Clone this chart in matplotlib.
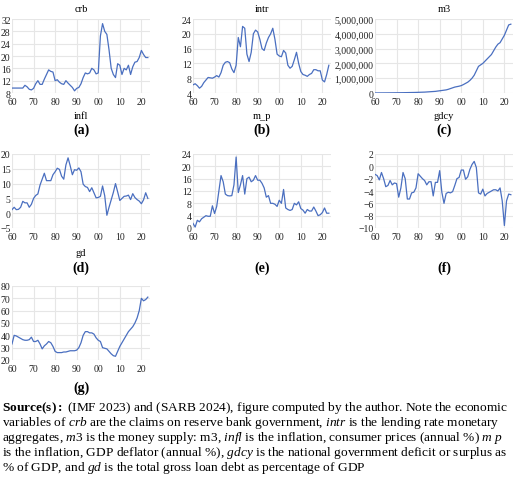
import matplotlib
matplotlib.use("Agg")
import matplotlib.pyplot as plt
from matplotlib.ticker import FuncFormatter

plt.rcParams['font.family'] = ['Liberation Serif', 'DejaVu Serif']
plt.rcParams['mathtext.fontset'] = 'custom'
plt.rcParams['mathtext.rm'] = 'Liberation Serif'
plt.rcParams['mathtext.it'] = 'Liberation Serif:italic'
plt.rcParams['mathtext.bf'] = 'Liberation Serif:bold'

years = list(range(1960, 2024))

crb = [9.6, 9.6, 9.6, 9.6, 9.6, 9.6, 10.5, 10, 9.2, 9, 9.5, 11, 12, 10.8, 10.8, 12.5,
       14, 15.5, 15, 14.8, 12, 12.3, 11.5, 11, 10.8, 12, 11.2, 10.5, 9.8, 8.7, 9.5, 9.8,
       11, 13, 14.5, 14.2, 14.5, 16, 15.5, 14.2, 14.5, 26.5, 30.5, 28, 27, 22, 16, 14,
       13, 17.5, 17, 14, 16, 15.5, 17, 14, 16.5, 18, 18.2, 19.5, 21.8, 20.5, 19.5, 19.5]
intr = [6.2, 6.5, 6, 5.3, 5.8, 6.8, 7.5, 8.2, 8.1, 8, 8.3, 8.7, 8.3, 9.5, 11.5, 12.3,
        12.5, 12.2, 10.5, 9.5, 11.5, 19, 16.5, 22, 21.5, 14.5, 12.5, 15, 20, 21, 20.5, 18.5,
        16, 15.5, 17.5, 19, 20, 21.5, 18.5, 14.5, 14, 13.8, 15.5, 14.8, 11.5, 10.7, 11.2, 13,
        15, 12, 9.8, 9, 8.8, 8.5, 9, 9.3, 10.3, 10.3, 10, 10, 7.5, 7, 9, 11.5]
m3 = [5e3, 5e3, 6e3, 7e3, 8e3, 9e3, 1e4, 1.1e4, 1.2e4, 1.4e4, 1.5e4, 1.7e4, 1.9e4, 2.1e4,
      2.4e4, 2.7e4, 3e4, 3.3e4, 3.6e4, 4e4, 4.5e4, 5e4, 5.5e4, 6e4, 7e4, 8e4, 9e4, 1e5,
      1.1e5, 1.3e5, 1.5e5, 1.7e5, 1.9e5, 2.1e5, 2.5e5, 3e5, 3.5e5, 4e5, 4.3e5, 4.6e5, 5e5,
      5.7e5, 6.5e5, 7.3e5, 8.5e5, 1e6, 1.2e6, 1.5e6, 1.8e6, 1.9e6, 2e6, 2.15e6, 2.3e6,
      2.45e6, 2.6e6, 2.85e6, 3.1e6, 3.3e6, 3.4e6, 3.65e6, 3.9e6, 4.25e6, 4.6e6, 4.65e6]
infl = [1.2, 2, 1.2, 1.3, 2, 4, 3.5, 3.5, 2, 3, 5, 6, 6.5, 9.5, 11.5, 13.5, 11, 11, 11,
        13, 14, 15.2, 14.8, 12.5, 11.5, 16.3, 18.7, 16, 13, 14.7, 14.5, 15.3, 14, 9.8, 9,
        8.7, 7.3, 8.6, 6.9, 5.2, 5.3, 5.7, 9.2, 5.9, -0.7, 2, 4.5, 7, 10, 7.2, 4.3, 5, 5.7,
        5.8, 6.1, 4.6, 6.6, 5.3, 4.6, 4.1, 3.2, 4.5, 6.9, 5]
m_p = [1.5, 0.3, 2.5, 2, 3, 3.5, 4, 3.8, 3.8, 7.2, 4.7, 7, 12, 17, 15, 11, 10.5, 10.4,
       10.5, 14, 23, 11.5, 14, 17, 11, 16, 16.5, 15, 15.5, 17, 15.5, 15.5, 14.5, 13, 10,
       10.5, 8, 8, 7.7, 7, 9, 8, 12.5, 6.5, 6, 5.7, 6, 8, 7.5, 8.5, 6.3, 5.8, 4.8, 6, 5.5,
       5.5, 6.8, 5.5, 4, 4.3, 5, 6.5, 4.8, 4.8]
gdcy = [-1.3, -1.5, -2.2, -1, -2, -3.3, -3.1, -2.3, -3, -2.7, -2.8, -5, -3.5, -1, -2,
        -5.3, -5.3, -4.3, -4.2, -3.5, -1.2, -1.6, -2, -2.3, -3, -2.5, -2.5, -4.8, -2.6,
        -2.6, -0.7, -4.2, -6, -4.4, -4.2, -4.3, -4.1, -3.1, -2, -1.8, -0.6, -0.6, -2.1,
        -1.7, -0.5, 0.3, 0.8, -0.2, -4.3, -4.5, -3.7, -4.8, -4.4, -4.2, -4, -3.8, -3.8,
        -4, -3.5, -5.6, -9.6, -5.6, -4.5, -4.6]
gd = [33, 40, 39.5, 38.5, 37.5, 36.5, 36, 36, 36.5, 38.5, 35, 35, 36, 33, 29, 31.5, 33,
      35, 34, 31, 27, 26, 26, 26, 26.5, 26.5, 27, 27.5, 27.5, 27.5, 28, 30, 34, 40, 43,
      43, 42, 42, 41, 38, 36, 35, 30, 29.5, 29, 27, 25, 23.5, 23, 27, 31, 34, 37, 40, 43,
      45, 47, 50, 54, 60, 70, 68, 69, 71]

xticks = [1960, 1970, 1980, 1990, 2000, 2010, 2020]
xticklabels = ['60', '70', '80', '90', '00', '10', '20']

panels = [
    ('crb', crb, (8, 32, 4), '(a)'),
    ('intr', intr, (4, 24, 4), '(b)'),
    ('m3', m3, (0, 5e6, 1e6), '(c)'),
    ('infl', infl, (-5, 20, 5), '(d)'),
    ('m_p', m_p, (0, 24, 4), '(e)'),
    ('gdcy', gdcy, (-10, 2, 2), '(f)'),
    ('gd', gd, (20, 80, 10), '(g)'),
]

W, H = 520, 481
fig = plt.figure(figsize=(W / 100, H / 100), dpi=100)

col_left = [12, 193, 375]
col_w = 138
row_top = [20, 155, 287]
row_h = 74
title_y = [10, 117, 254]
label_y = [130, 268, 388]

for i, (name, vals, (lo, hi, step), lab) in enumerate(panels):
    r, c = divmod(i, 3)
    left = col_left[c]
    top = row_top[r]
    ax = fig.add_axes([left / W, 1 - (top + row_h) / H, col_w / W, row_h / H])
    ax.plot(years, vals, color='#4a6fc0', lw=0.9)
    ax.set_xlim(1960, 2024)
    ax.set_ylim(lo, hi)
    n = int(round((hi - lo) / step))
    ax.set_yticks([lo + k * step for k in range(n + 1)])
    ax.set_xticks(xticks)
    ax.set_xticklabels(xticklabels)
    if name == 'm3':
        ax.yaxis.set_major_formatter(FuncFormatter(lambda v, p: f'{int(v):,}'))
    elif name in ('infl', 'gdcy'):
        ax.yaxis.set_major_formatter(FuncFormatter(lambda v, p: f'{int(v)}'.replace('-', '\u2212')))
    ax.grid(True, color='#e6e6e6', lw=0.8)
    ax.set_axisbelow(True)
    for s in ax.spines.values():
        s.set_visible(False)
    ax.tick_params(length=0, labelsize=7, pad=1, colors='#222222')
    ax.tick_params(axis='x', pad=3)
    cx = (left + col_w / 2) / W
    fig.text(cx, 1 - title_y[r] / H, name, ha='center', va='center', fontsize=7.5)
    fig.text(cx, 1 - label_y[r] / H, lab, ha='center', va='center',
             fontsize=10, fontweight='bold')

lines = [
    r"$\mathbf{Source(s){:}}$ (IMF 2023) and (SARB 2024), figure computed by the author. Note the economic",
    r"variables of $\mathit{crb}$ are the claims on reserve bank government, $\mathit{intr}$ is the lending rate monetary",
    r"aggregates, $\mathit{m3}$ is the money supply: m3, $\mathit{infl}$ is the inflation, consumer prices (annual %) $\mathit{m\ p}$",
    r"is the inflation, GDP deflator (annual %), $\mathit{gdcy}$ is the national government deficit or surplus as",
    r"% of GDP, and $\mathit{gd}$ is the total gross loan debt as percentage of GDP",
]
for k, t in enumerate(lines):
    fig.text(2 / W, 1 - (408 + k * 15) / H, t, ha='left', va='center', fontsize=9.6)

fig.savefig('out.png', dpi=100)
